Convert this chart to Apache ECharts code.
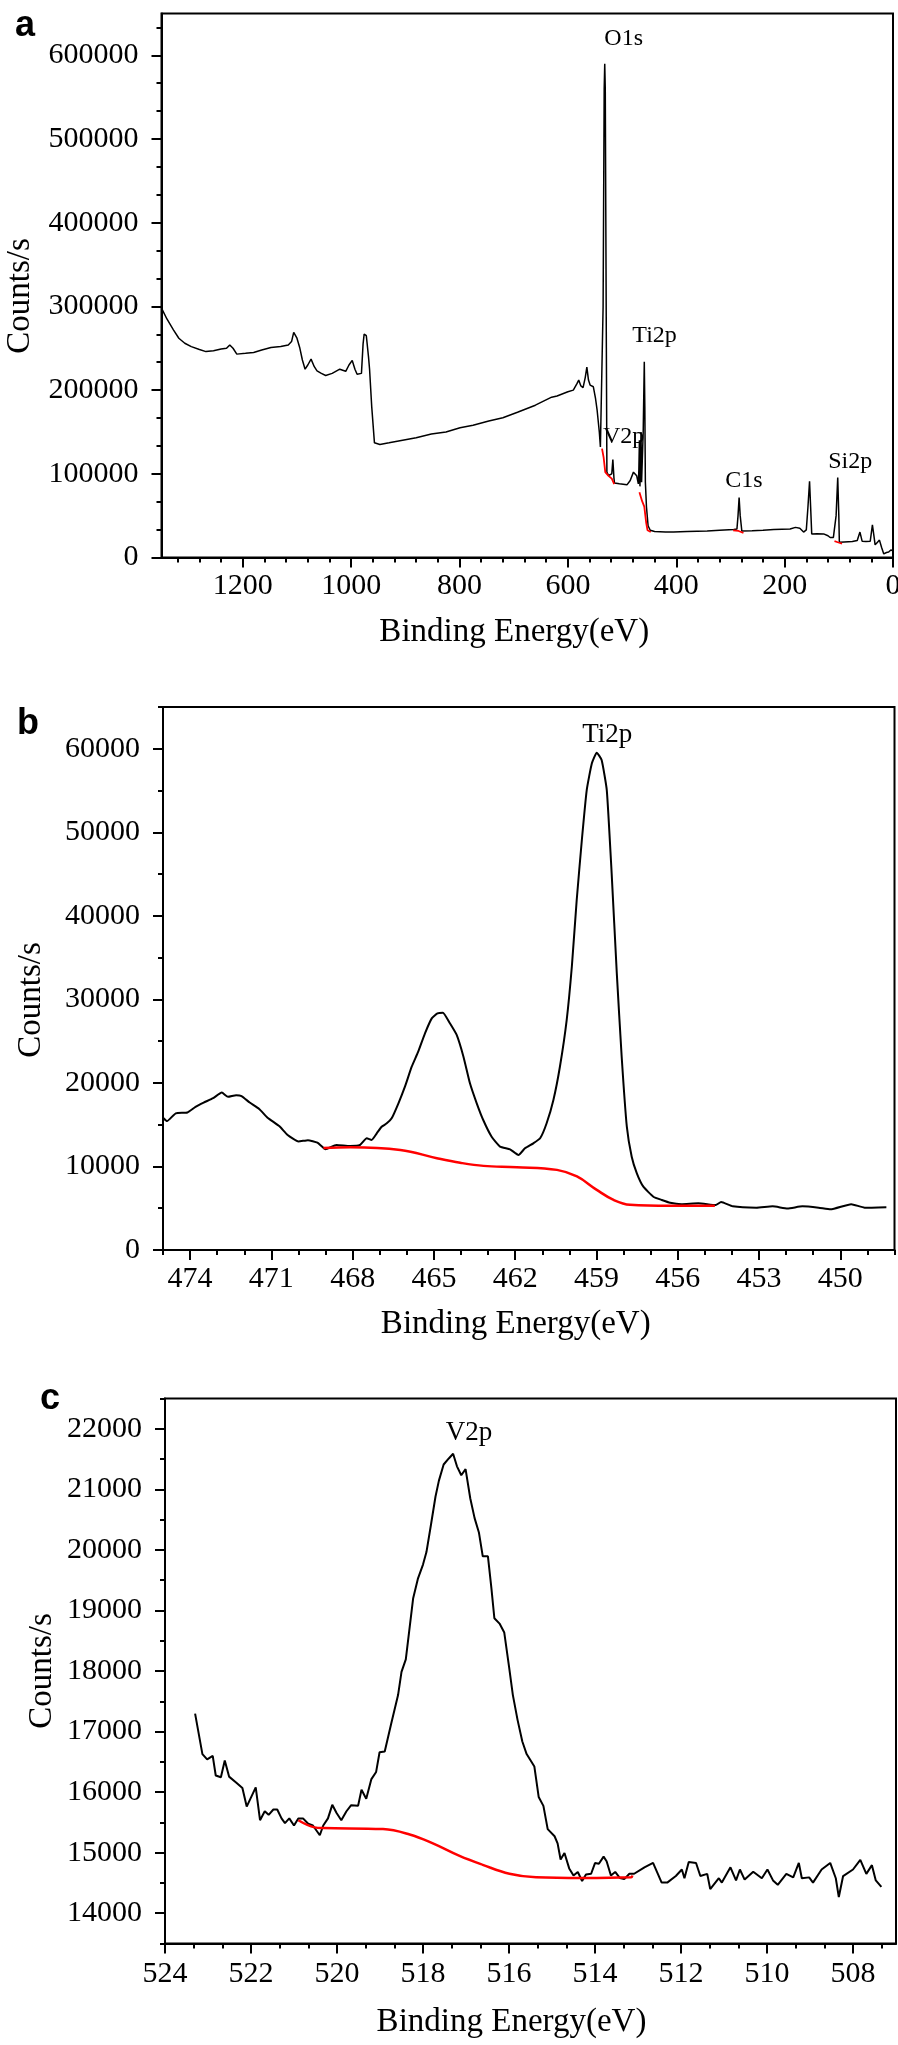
<!DOCTYPE html>
<html>
<head>
<meta charset="utf-8">
<script src="https://cdn.jsdelivr.net/npm/echarts@6/dist/echarts.min.js"></script>
<style>html,body{margin:0;padding:0;background:#fff}#c{width:898px;height:2045px}</style>
</head>
<body>
<div id="c"></div>
<script>
// ---------------- Panel a: survey spectrum ----------------
const aSpectrum = [
[1350,298000],[1340,285000],[1328,272000],[1318,262000],[1307,256000],[1295,252000],[1280,248500],[1268,246000],
[1254,247000],[1240,249000],[1230,250000],[1224,254000],[1218,250000],[1211,243000],[1195,244000],[1180,245000],
[1165,248000],[1148,251000],[1130,252000],[1116,254000],[1110,258000],[1106,269000],[1100,262000],[1095,251000],
[1090,236000],[1085,225000],[1080,230000],[1074,237000],[1068,228000],[1063,223000],[1055,220000],[1047,217500],
[1035,220000],[1021,225000],[1010,222500],[1004,230000],[998,235500],[993,225000],[989,219000],[981,220000],
[978,255000],[976,267000],[972,265000],[968,240000],[966,225000],[962,180000],[957,137000],[947,135000],
[930,137000],[905,140000],[880,143000],[852,147500],[825,150000],[799,155000],[775,158000],[746,163000],
[720,167000],[693,173500],[660,182000],[630,191600],[620,193000],[600,198000],[590,200000],[583,208000],
[580,212000],[576,205000],[572,203000],[568,215000],[565,227500],[562,212000],[559,206000],[553,204000],
[549,190000],[546,175700],[542,150000],[540,132000],[538,130000],[535,300000],[533,560000],[532,590000],
[531,560000],[529,250000],[528,102000],[525,98000],[522,97500],[519,100000],[517,117000],[515,95000],
[514,89000],[505,88000],[491,86800],[485,92000],[479,102000],[476,104000],[473,97600],[472,97000],
[470,88000],[469,105000],[468,140000],[467,85000],[465,150000],[464,90000],[462,130000],[461,150000],
[459,234000],[458,180000],[457,90000],[455,60700],[452,38000],[448,32500],[440,31000],[420,30500],
[405,30400],[380,31000],[343,31700],[320,32500],[294,33400],[288,34000],[286,50000],[284,71600],
[282,50000],[279,31700],[260,32000],[240,32500],[220,33400],[190,34000],[180,36000],[177,38200],
[172,35000],[165,30400],[160,33000],[157,60000],[154,91100],[152,60000],[150,28200],[140,28500],
[128,28200],[120,26000],[116,23900],[110,24000],[105,50000],[102,95500],[100,50000],[99,18200],
[90,18500],[75,19000],[66,20400],[61,30400],[57,19500],[50,19000],[42,19500],[38,39000],
[35,25000],[33,15200],[29,18000],[25,20800],[21,12000],[17,4300],[12,6000],[8,6500],
[4,9000],[2,10800],[0,8000]
];
const aBackground = [
[537,130000],[534,119300],[531,102000],[525,97600],[519,94200],[514.5,87600],null,
[468,78100],[463,67300],[459,60700],[455.4,41200],[453,32500],[447,30400],null,
[295,32500],[285,31700],[276,29500],null,
[108,19500],[102,18200],[94,16500]
];
const aPeakNames = ['O1s','Ti2p','V2p','C1s','Si2p'];
const aPeakX = [497, 440, 497, 275, 79];
const aPeakY = [620000, 265000, 144000, 91400, 114000];
const aXTicks = [0,200,400,600,800,1000,1200];
const aYTicks = [0,100000,200000,300000,400000,500000,600000];

// ---------------- Panel b: Ti2p ----------------
const bSpectrum = [
[475.0,15840],[474.85,15430],[474.53,16360],[474.1,16460],[473.8,17140],[473.5,17650],[473.15,18170],[472.83,18840],
[472.6,18330],[472.3,18530],[472.1,18430],[471.8,17650],[471.45,16880],[471.14,15840],[470.7,14810],[470.4,13770],
[470.0,12990],[469.65,13150],[469.3,12840],[469.0,12060],[468.6,12580],[468.1,12450],[467.73,12570],[467.48,13370],
[467.3,13170],[467.11,13970],[466.93,14760],[466.74,15160],[466.56,15760],[466.31,17560],[466.07,19550],[465.82,21940],
[465.58,23740],[465.33,25940],[465.08,27730],[464.87,28330],[464.67,28410],[464.41,27140],[464.16,25740],[463.91,23140],
[463.67,19950],[463.42,17560],[463.18,15560],[462.87,13560],[462.56,12370],[462.19,12050],[461.88,11370],[461.64,12170],
[461.33,12770],[461.08,13370],[460.84,15170],[460.59,17960],[460.35,21940],[460.1,27530],[459.91,33910],[459.73,41900],
[459.54,49080],[459.36,55060],[459.17,58260],[458.99,59530],[458.81,58650],[458.62,55060],[458.44,45090],[458.25,33120],
[458.07,23140],[457.88,14760],[457.7,11170],[457.51,9180],[457.27,7580],[456.9,6380],[456.59,5990],[456.28,5660],
[455.87,5490],[455.24,5590],[454.6,5380],[454.4,5750],[453.97,5230],[453.1,5070],[452.5,5230],[451.95,4970],
[451.4,5230],[450.8,5070],[450.36,4870],[449.6,5490],[449.1,5070],[448.3,5130]
];
const bBackground = [
[469.08,12220],[468.09,12300],[466.24,11980],[464.89,10990],[464.03,10440],[463.17,10070],[461.94,9920],
[460.46,9590],[459.72,8800],[458.99,7200],[458.37,6000],[457.76,5410],[456.28,5290],[454.63,5300]
];
const bPeakNames = ['Ti2p'];
const bPeakX = [458.6];
const bPeakY = [61700];
const bXTicks = [450,453,456,459,462,465,468,471,474];
const bYTicks = [0,10000,20000,30000,40000,50000,60000];

// ---------------- Panel c: V2p ----------------
const cEnergy = [523.30,523.13,523.02,522.89,522.82,522.70,522.61,522.51,522.34,522.2,522.1,521.89,521.79,521.68,521.59,
521.48,521.39,521.29,521.21,521.11,521.0,520.9,520.79,520.67,520.56,520.4,520.32,520.21,520.11,520.01,519.9,519.78,
519.67,519.51,519.43,519.32,519.2,519.09,519.01,518.89,518.74,518.58,518.5,518.4,518.23,518.12,518.0,517.92,517.81,
517.71,517.63,517.52,517.40,517.30,517.21,517.11,517.01,516.90,516.8,516.70,516.61,516.49,516.41,516.34,516.22,516.11,
516.0,515.91,515.80,515.69,515.59,515.41,515.31,515.2,515.1,514.94,514.87,514.8,514.71,514.6,514.5,514.4,514.3,514.21,
514.09,514.0,513.91,513.8,513.73,513.63,513.53,513.42,513.32,513.2,513.09,
512.85,512.65,512.45,512.32,512.12,511.98,511.92,511.82,511.65,511.55,511.39,511.32,511.12,511.05,510.85,510.72,510.63,
510.52,510.32,510.12,509.99,509.86,509.75,509.55,509.39,509.26,509.19,509.02,508.93,508.73,508.53,508.4,508.33,508.23,
508.0,507.83,507.69,507.56,507.47,507.34];
const cCounts = [17295,16628,16540,16599,16274,16245,16522,16256,16156,16068,15761,16079,15536,15684,15625,
15713,15713,15566,15489,15566,15448,15566,15566,15477,15448,15288,15448,15566,15790,15654,15536,15684,
15784,15773,16038,15890,16215,16333,16658,16669,17130,17602,17986,18193,19196,19521,19757,19964,20436,
20878,21144,21410,21510,21587,21380,21233,21333,20849,20524,20288,19893,19893,19373,18871,18783,18635,
18075,17602,17189,16835,16628,16422,15920,15773,15389,15271,15153,14887,14994,14740,14622,14681,14533,14640,
14652,14828,14816,14935,14858,14622,14681,14580,14563,14652,14652,
14758,14830,14506,14506,14614,14722,14578,14845,14830,14614,14650,14398,14578,14506,14758,14542,14722,
14556,14686,14578,14722,14542,14470,14650,14592,14830,14578,14592,14506,14722,14830,14578,14267,14614,
14722,14881,14650,14794,14542,14434];
const cBgEnergy = [520.9,520.52,520.32,518.93,518.31,517.77,517.15,516.61,515.99,515.37,514.29,513.16,513.13];
const cBgCounts = [15536,15418,15406,15389,15300,15153,14946,14799,14652,14592,14580,14592,14622];
const cPeakNames = ['V2p'];
const cPeakX = [516.93];
const cPeakY = [21924];
const cXTicks = [508,510,512,514,516,518,520,522,524];
const cYTicks = [14000,15000,16000,17000,18000,19000,20000,21000,22000];

// ---------------- helpers ----------------
const SERIF = "'Liberation Serif', 'Times New Roman', serif";
function minors(from, step, count, majors, lo, hi) {
  const out = [];
  for (let k = 0; k <= count; k++) {
    const v = +(from + k * step).toFixed(4);
    if (v < lo - 1e-6 || v > hi + 1e-6) continue;
    if (majors.some(m => Math.abs(m - v) < 1e-3)) continue;
    out.push(v);
  }
  return out;
}
const panels = [
  { grid: {left: 161.5, top: 13.5, width: 731.5, height: 544},
    x: {min: 0, max: 1350, majors: aXTicks, minors: minors(0, 40, 34, aXTicks, 0, 1350), margin: 14, nameGap: 58, shift: 26},
    y: {min: 0, max: 650000, majors: aYTicks, minors: minors(0, 100000/3, 20, aYTicks, 0, 650000), nameGap: 125, shift: 21},
    lines: [{data: aSpectrum, color: '#000', width: 1.5, smooth: false},
            {data: aBackground.map(p => p === null ? ['-','-'] : p), color: '#ff0000', width: 1.8, smooth: false}],
    peaks: {names: aPeakNames, x: aPeakX, y: aPeakY, size: 24} },
  { grid: {left: 163, top: 707, width: 731.5, height: 543},
    x: {min: 448, max: 475, majors: bXTicks, minors: minors(448, 1, 27, bXTicks, 448, 475), margin: 14, nameGap: 58, shift: 26},
    y: {min: 0, max: 65000, majors: bYTicks, minors: minors(0, 5000, 13, bYTicks, 0, 65000), nameGap: 115, shift: 43},
    lines: [{data: bSpectrum, color: '#000', width: 2, smooth: 0.15},
            {data: bBackground, color: '#ff0000', width: 2.5, smooth: 0.4}],
    peaks: {names: bPeakNames, x: bPeakX, y: bPeakY, size: 27} },
  { grid: {left: 165, top: 1398.5, width: 731, height: 545},
    x: {min: 507, max: 524, majors: cXTicks, minors: minors(507.3333, 2/3, 25, cXTicks, 507, 524), margin: 16, nameGap: 62, shift: 38},
    y: {min: 13500, max: 22500, majors: cYTicks, minors: minors(13500, 1000, 9, cYTicks, 13500, 22500), nameGap: 106, shift: 0},
    lines: [{data: cEnergy.map((e, i) => [e, cCounts[i]]), color: '#000', width: 2, smooth: false},
            {data: cBgEnergy.map((e, i) => [e, cBgCounts[i]]), color: '#ff0000', width: 2.5, smooth: 0.4}],
    peaks: {names: cPeakNames, x: cPeakX, y: cPeakY, size: 27} }
];

const grids = [], xAxes = [], yAxes = [], series = [];
panels.forEach((p, i) => {
  grids.push(Object.assign({show: true, borderColor: '#000', borderWidth: 2, backgroundColor: 'transparent',
    containLabel: false, outerBoundsMode: 'none'}, p.grid));
  const lbl = {fontFamily: SERIF, fontSize: 30, color: '#000'};
  xAxes.push({type: 'value', gridIndex: i, position: 'bottom', min: p.x.min, max: p.x.max, inverse: true,
    name: 'Binding Energy(eV)', nameLocation: 'middle', nameGap: p.x.nameGap, nameMoveOverlap: false,
    nameTextStyle: {fontFamily: SERIF, fontSize: 33, color: '#000', padding: [0, p.x.shift, 0, 0]},
    axisLine: {show: true, onZero: false, lineStyle: {color: '#000', width: 2}},
    axisTick: {show: true, inside: false, length: 10, lineStyle: {color: '#000', width: 2}, customValues: p.x.majors},
    axisLabel: Object.assign({show: true, margin: p.x.margin, customValues: p.x.majors, formatter: v => String(v)}, lbl),
    splitLine: {show: false}, minorTick: {show: false}});
  xAxes.push({type: 'value', gridIndex: i, position: 'bottom', min: p.x.min, max: p.x.max, inverse: true,
    axisLine: {show: false, onZero: false},
    axisTick: {show: true, inside: false, length: 5, lineStyle: {color: '#000', width: 2}, customValues: p.x.minors},
    axisLabel: {show: false}, splitLine: {show: false}});
  yAxes.push({type: 'value', gridIndex: i, position: 'left', min: p.y.min, max: p.y.max,
    name: 'Counts/s', nameLocation: 'middle', nameGap: p.y.nameGap, nameMoveOverlap: false,
    nameTextStyle: {fontFamily: SERIF, fontSize: 33, color: '#000', padding: [0, p.y.shift, 0, 0]},
    axisLine: {show: true, onZero: false, lineStyle: {color: '#000', width: 2}},
    axisTick: {show: true, inside: false, length: 10, lineStyle: {color: '#000', width: 2}, customValues: p.y.majors},
    axisLabel: Object.assign({show: true, margin: 23, customValues: p.y.majors, formatter: v => String(v)}, lbl),
    splitLine: {show: false}});
  yAxes.push({type: 'value', gridIndex: i, position: 'left', min: p.y.min, max: p.y.max,
    axisLine: {show: false, onZero: false},
    axisTick: {show: true, inside: false, length: 5, lineStyle: {color: '#000', width: 2}, customValues: p.y.minors},
    axisLabel: {show: false}, splitLine: {show: false}});
  p.lines.forEach((l, k) => {
    series.push({type: 'line', xAxisIndex: 2 * i, yAxisIndex: 2 * i, data: l.data, symbol: 'none', showSymbol: false,
      smooth: l.smooth, connectNulls: false, silent: true, z: 3 + k,
      lineStyle: {color: l.color, width: l.width}, itemStyle: {color: l.color}});
  });
  series.push({type: 'scatter', xAxisIndex: 2 * i, yAxisIndex: 2 * i, silent: true, z: 6, symbolSize: 0,
    itemStyle: {color: '#000', opacity: 1},
    data: p.peaks.names.map((n, k) => ({name: n, value: [p.peaks.x[k], p.peaks.y[k]]})),
    label: {show: true, position: 'inside', formatter: '{b}', fontFamily: SERIF, fontSize: p.peaks.size,
      color: '#000', opacity: 1, textBorderWidth: 0, textBorderColor: 'transparent', textShadowBlur: 0}});
});

const chart = echarts.init(document.getElementById('c'), null, {renderer: 'canvas', width: 898, height: 2045});
chart.setOption({
  animation: false,
  backgroundColor: '#fff',
  grid: grids, xAxis: xAxes, yAxis: yAxes, series: series,
  graphic: [
    {type: 'text', left: 15, top: 8, style: {text: 'a', font: "bold 36px 'Liberation Sans', Arial, sans-serif", fill: '#000'}},
    {type: 'text', left: 17, top: 706, style: {text: 'b', font: "bold 36px 'Liberation Sans', Arial, sans-serif", fill: '#000'}},
    {type: 'text', left: 40, top: 1381, style: {text: 'c', font: "bold 36px 'Liberation Sans', Arial, sans-serif", fill: '#000'}}
  ]
});
</script>
</body>
</html>
